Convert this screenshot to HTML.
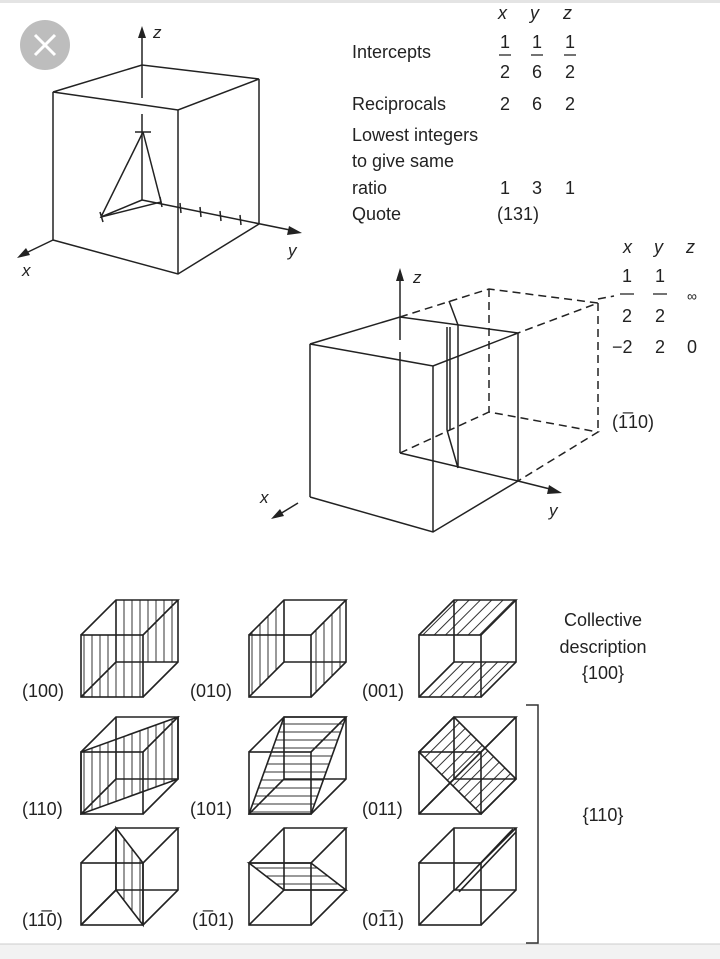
<!DOCTYPE html>
<html><head><meta charset="utf-8"><style>
html,body{margin:0;padding:0;background:#fff;}
svg{display:block;}
text{font-family:"Liberation Sans",sans-serif;fill:#222;}
.i{font-style:italic;}
</style></head><body>
<svg width="720" height="959" viewBox="0 0 720 959" xmlns="http://www.w3.org/2000/svg">
<defs>
<pattern id="pv" width="8" height="8" patternUnits="userSpaceOnUse"><line x1="4" y1="0" x2="4" y2="8" stroke="#333" stroke-width="1"/></pattern>
<pattern id="ph" width="8" height="8" patternUnits="userSpaceOnUse"><line x1="0" y1="4" x2="8" y2="4" stroke="#333" stroke-width="1"/></pattern>
<pattern id="pd" width="8" height="8" patternUnits="userSpaceOnUse" patternTransform="rotate(45)"><line x1="4" y1="0" x2="4" y2="8" stroke="#333" stroke-width="1"/></pattern>
<g id="cube" fill="none" stroke="#222" stroke-width="1.6">
<rect x="0" y="0" width="62" height="62"/>
<polyline points="0,0 35,-35 97,-35 62,0"/>
<polyline points="97,-35 97,27 62,62"/>
<polyline points="35,-35 35,27 0,62"/>
<line x1="35" y1="27" x2="97" y2="27"/>
</g>
</defs>
<rect x="0" y="0" width="720" height="3" fill="#e4e4e4"/>
<rect x="0" y="944" width="720" height="15" fill="#f2f2f2"/>
<line x1="0" y1="944" x2="720" y2="944" stroke="#ccc"/>

<circle cx="45" cy="45" r="25" fill="#bdbdbd"/>
<path d="M35 35 L55 55 M55 35 L35 55" stroke="#fff" stroke-width="3"/>

<g fill="none" stroke="#222" stroke-width="1.5">
<polygon points="53,92 142,65 259,79 178,110"/>
<line x1="53" y1="92" x2="53" y2="240"/>
<line x1="178" y1="110" x2="178" y2="274"/>
<line x1="259" y1="79" x2="259" y2="224"/>
<polyline points="53,240 178,274 259,224"/>
<line x1="142" y1="38" x2="142" y2="98"/>
<line x1="142" y1="114" x2="142" y2="200"/>
<line x1="142" y1="200" x2="290" y2="230"/>
<line x1="53" y1="240" x2="28" y2="252"/>
<line x1="142" y1="200" x2="101" y2="217"/>
<polyline points="143,132 101,217 161,202 143,132"/>
<line x1="135" y1="132" x2="151" y2="132"/>
<line x1="100" y1="212" x2="103" y2="222"/>
<line x1="160" y1="197" x2="162" y2="207"/>
<line x1="180" y1="203" x2="181" y2="213"/>
<line x1="200" y1="207" x2="201" y2="217"/>
<line x1="220" y1="211" x2="221" y2="221"/>
<line x1="240" y1="215" x2="241" y2="225"/>
</g>
<polygon points="142,26 138,38 146,38" fill="#222"/>
<polygon points="302,233 289,226 287,235" fill="#222"/>
<polygon points="17,258 30,255 26,248" fill="#222"/>
<text x="153" y="38" font-size="17" class="i">z</text>
<text x="288" y="256" font-size="17" class="i">y</text>
<text x="22" y="276" font-size="17" class="i">x</text>

<g font-size="18">
<text x="498" y="19" class="i">x</text><text x="530" y="19" class="i">y</text><text x="563" y="19" class="i">z</text>
<text x="352" y="58">Intercepts</text>
<text x="505" y="48" text-anchor="middle">1</text><text x="537" y="48" text-anchor="middle">1</text><text x="570" y="48" text-anchor="middle">1</text>
<text x="505" y="78" text-anchor="middle">2</text><text x="537" y="78" text-anchor="middle">6</text><text x="570" y="78" text-anchor="middle">2</text>
<text x="352" y="110">Reciprocals</text>
<text x="505" y="110" text-anchor="middle">2</text><text x="537" y="110" text-anchor="middle">6</text><text x="570" y="110" text-anchor="middle">2</text>
<text x="352" y="141">Lowest integers</text>
<text x="352" y="167">to give same</text>
<text x="352" y="194">ratio</text>
<text x="505" y="194" text-anchor="middle">1</text><text x="537" y="194" text-anchor="middle">3</text><text x="570" y="194" text-anchor="middle">1</text>
<text x="352" y="220">Quote</text>
<text x="497" y="220">(131)</text>
</g>
<g stroke="#444" stroke-width="1.5"><line x1="499" y1="55" x2="511" y2="55"/><line x1="531" y1="55" x2="543" y2="55"/><line x1="564" y1="55" x2="576" y2="55"/></g>

<g fill="none" stroke="#222" stroke-width="1.5">
<polygon points="310,344 400,317 518,333 433,366"/>
<line x1="310" y1="344" x2="310" y2="497"/>
<line x1="433" y1="366" x2="433" y2="532"/>
<line x1="518" y1="333" x2="518" y2="481"/>
<polyline points="310,497 433,532 518,481"/>
<line x1="400" y1="280" x2="400" y2="340"/>
<line x1="400" y1="352" x2="400" y2="453"/>
<line x1="400" y1="453" x2="518" y2="481"/>
<line x1="518" y1="481" x2="550" y2="489"/>
<line x1="298" y1="503" x2="280" y2="514"/>
<polyline points="449,301 458,325 458,468"/>
<line x1="447" y1="327" x2="447" y2="430"/>
<line x1="450" y1="327" x2="450" y2="430"/>
<line x1="447" y1="430" x2="458" y2="468"/>
</g>
<g fill="none" stroke="#222" stroke-width="1.5" stroke-dasharray="8,5">
<polyline points="400,317 489,289 598,303 518,333"/>
<line x1="489" y1="289" x2="489" y2="412"/>
<line x1="598" y1="303" x2="598" y2="432"/>
<polyline points="400,453 489,412 598,432 518,481"/>
<line x1="598" y1="299" x2="614" y2="296"/>
</g>
<polygon points="400,268 396,281 404,281" fill="#222"/>
<polygon points="562,493 549,485 547,494" fill="#222"/>
<polygon points="271,519 284,516 280,509" fill="#222"/>
<text x="413" y="283" font-size="17" class="i">z</text>
<text x="549" y="516" font-size="17" class="i">y</text>
<text x="260" y="503" font-size="17" class="i">x</text>
<g font-size="18">
<text x="623" y="253" class="i">x</text><text x="654" y="253" class="i">y</text><text x="686" y="253" class="i">z</text>
<text x="627" y="282" text-anchor="middle">1</text><text x="660" y="282" text-anchor="middle">1</text>
<text x="627" y="322" text-anchor="middle">2</text><text x="660" y="322" text-anchor="middle">2</text>
<text x="692" y="301" text-anchor="middle" font-size="14">∞</text>
<text x="612" y="353">−2</text><text x="660" y="353" text-anchor="middle">2</text><text x="692" y="353" text-anchor="middle">0</text>
<text x="612" y="428">(1̅10)</text>
</g>
<g stroke="#444" stroke-width="1.5"><line x1="620" y1="294" x2="634" y2="294"/><line x1="653" y1="294" x2="667" y2="294"/></g>

<g stroke="none">
<rect x="81" y="635" width="62" height="62" fill="url(#pv)"/>
<polygon points="116,600 178,600 178,662 116,662" fill="url(#pv)"/>
<polygon points="249,635 284,600 284,662 249,697" fill="url(#pv)"/>
<polygon points="311,635 346,600 346,662 311,697" fill="url(#pv)"/>
<polygon points="419,635 454,600 516,600 481,635" fill="url(#pd)"/>
<polygon points="419,697 454,662 516,662 481,697" fill="url(#pd)"/>
<polygon points="81,752 81,814 178,779 178,717" fill="url(#pv)"/>
<polygon points="249,814 311,814 346,717 284,717" fill="url(#ph)"/>
<polygon points="419,752 481,814 516,779 454,717" fill="url(#pd)"/>
<polygon points="143,863 143,925 116,890 116,828" fill="url(#pv)"/>
<polygon points="249,863 311,863 346,890 284,890" fill="url(#ph)"/>
</g>
<g fill="none" stroke="#222" stroke-width="1.6">
<polygon points="81,752 81,814 178,779 178,717"/>
<polygon points="249,814 311,814 346,717 284,717"/>
<polygon points="419,752 481,814 516,779 454,717"/>
<line x1="419" y1="814" x2="516" y2="717"/>
<polygon points="143,863 143,925 116,890 116,828"/>
<line x1="81" y1="925" x2="116" y2="890"/>
<polygon points="249,863 311,863 346,890 284,890"/>
<line x1="455" y1="890" x2="513" y2="829"/>
<line x1="459" y1="892" x2="516" y2="832"/>
</g>
<use href="#cube" x="81" y="635"/><use href="#cube" x="249" y="635"/><use href="#cube" x="419" y="635"/>
<use href="#cube" x="81" y="752"/><use href="#cube" x="249" y="752"/><use href="#cube" x="419" y="752"/>
<use href="#cube" x="81" y="863"/><use href="#cube" x="249" y="863"/><use href="#cube" x="419" y="863"/>

<g font-size="18">
<text x="22" y="697">(100)</text><text x="190" y="697">(010)</text><text x="362" y="697">(001)</text>
<text x="22" y="815">(110)</text><text x="190" y="815">(101)</text><text x="362" y="815">(011)</text>
<text x="22" y="926">(11̅0)</text><text x="192" y="926">(1̅01)</text><text x="362" y="926">(01̅1)</text>
<text x="603" y="626" text-anchor="middle">Collective</text>
<text x="603" y="653" text-anchor="middle">description</text>
<text x="603" y="679" text-anchor="middle">{100}</text>
<text x="603" y="821" text-anchor="middle">{110}</text>
</g>
<polyline points="526,705 538,705 538,943 526,943" fill="none" stroke="#333" stroke-width="1.5"/>
</svg>
</body></html>
